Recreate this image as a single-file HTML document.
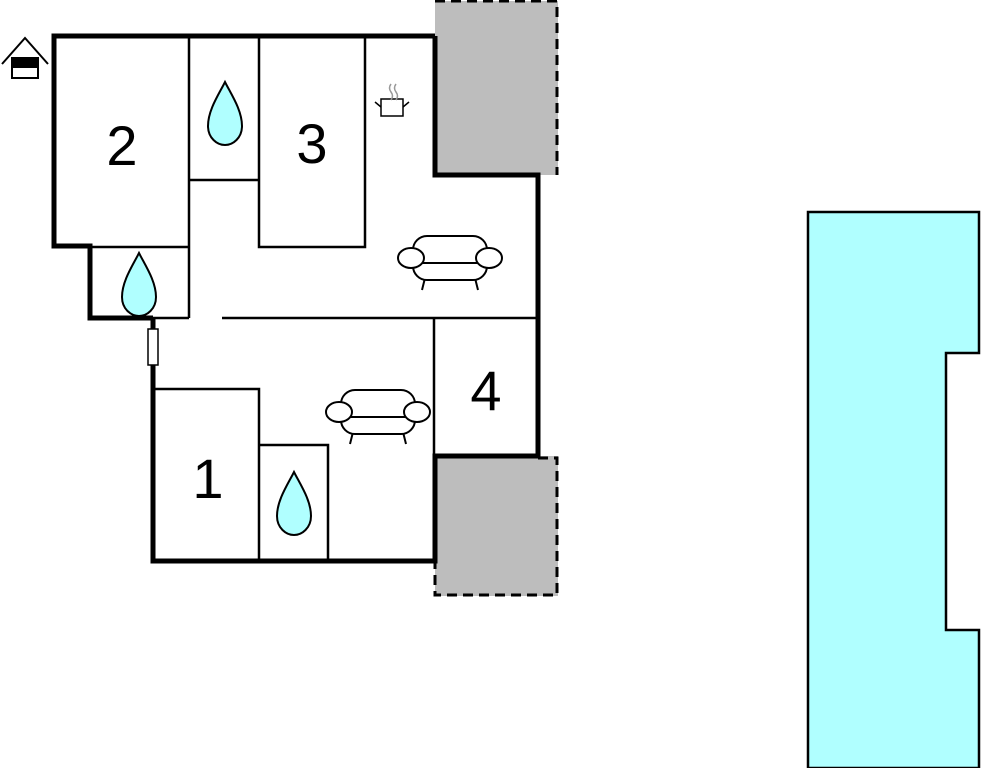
<!DOCTYPE html>
<html><head><style>html,body{margin:0;padding:0;background:#fff;}svg{display:block}</style></head>
<body>
<svg width="981" height="768" viewBox="0 0 981 768" xmlns="http://www.w3.org/2000/svg">
<defs>
<g id="drop"><path d="M0,-32 C-6,-20 -17,-4 -17,12 C-17,24 -8,31 0,31 C8,31 17,24 17,12 C17,-4 6,-20 0,-32 Z" fill="#b0ffff" stroke="#000" stroke-width="2"/></g>
<g id="sofa" fill="#fff" stroke="#000" stroke-width="2">
<line x1="-25" y1="20" x2="-28" y2="32"/><line x1="25" y1="20" x2="28" y2="32"/>
<rect x="-37" y="-22" width="74" height="44" rx="14"/>
<line x1="-36" y1="5" x2="36" y2="5"/>
<ellipse cx="-39" cy="0" rx="13" ry="10"/><ellipse cx="39" cy="0" rx="13" ry="10"/>
</g>
</defs>
<rect x="435" y="1" width="123" height="174" fill="#bdbdbd"/>
<path d="M435,1 H557 V175" fill="none" stroke="#000" stroke-width="3" stroke-dasharray="10,6"/>
<rect x="435" y="456" width="123" height="140" fill="#bdbdbd"/>
<path d="M538,458 H557 V595 H435 V561" fill="none" stroke="#000" stroke-width="3" stroke-dasharray="10,6"/>
<g fill="none" stroke="#000" stroke-width="2.5">
<line x1="189" y1="36" x2="189" y2="318"/>
<path d="M189,180 H259"/>
<path d="M259,36 V247 H365 V36"/>
<path d="M90,247 H189"/>
<path d="M153,318 H189"/>
<path d="M222,318 H538"/>
<path d="M434,318 V456"/>
<path d="M153,389 H259 V561"/>
<path d="M259,445 H328 V561"/>
</g>
<path d="M435,36 H54 V246 H90 V318 H153" fill="none" stroke="#000" stroke-width="5"/>
<path d="M153,318 V330 M153,365 V561 H435 V456 H538 V175 H435 V36" fill="none" stroke="#000" stroke-width="5"/>
<rect x="148" y="329" width="10" height="36" fill="#fff" stroke="#000" stroke-width="1.5"/>
<g font-family="Liberation Sans, sans-serif" font-size="56" text-anchor="middle" fill="#000">
<text x="122" y="165">2</text><text x="312" y="163">3</text>
<text x="486" y="410">4</text><text x="208" y="498">1</text>
</g>
<use href="#drop" x="225" y="114"/>
<use href="#drop" x="139" y="285"/>
<use href="#drop" x="294" y="504"/>
<use href="#sofa" x="450" y="258"/>
<use href="#sofa" x="378" y="412"/>
<g fill="none" stroke="#000" stroke-width="1.5">
<rect x="381" y="99" width="22" height="17" fill="#fff"/>
<path d="M375,102 L381,107 M409,102 L403,107"/>
<path d="M391,84 q-3,4 0,8 q3,4 0,8 M396,84 q-3,4 0,8 q3,4 0,8" stroke="#999"/>
</g>
<g stroke="#000" stroke-width="2" fill="none">
<path d="M2,64 L25,38 L48,64"/>
<rect x="12" y="58" width="26" height="20" fill="#fff"/>
<rect x="12" y="58" width="26" height="9" fill="#000"/>
</g>
<path d="M808,212 H979 V353 H946 V630 H979 V768 H808 Z" fill="#b0ffff" stroke="#000" stroke-width="2.5"/>
</svg>
</body></html>
